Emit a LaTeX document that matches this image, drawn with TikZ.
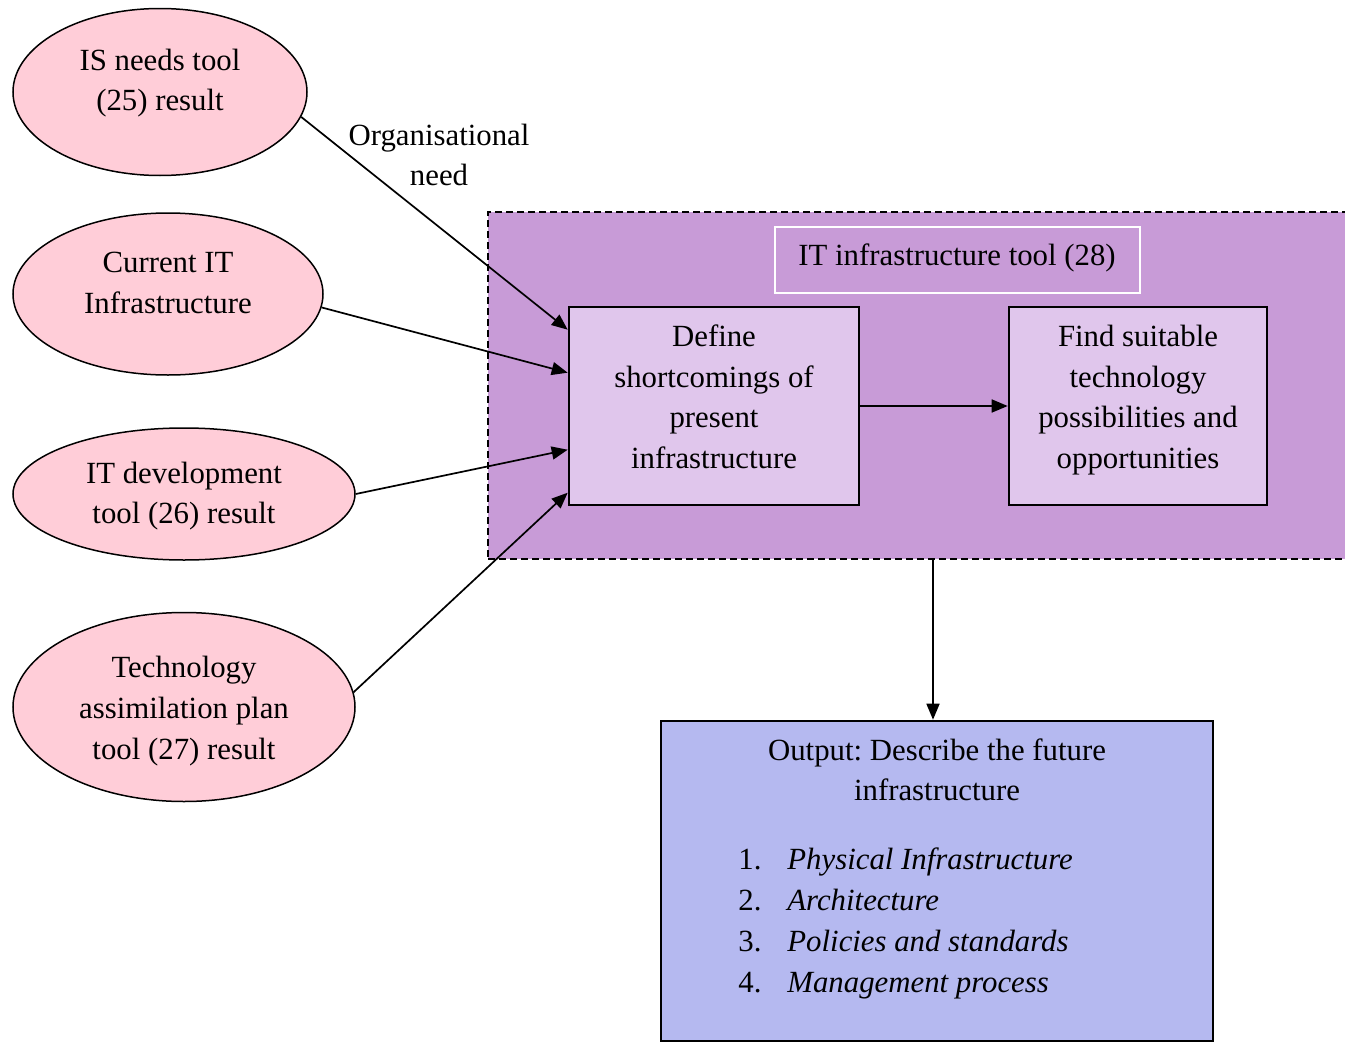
\documentclass[tikz,border=0pt]{standalone}
\usepackage{fontspec}
\setmainfont{Liberation Serif}
\usetikzlibrary{shapes.geometric,arrows.meta,calc}
\definecolor{pinkfill}{RGB}{255,205,216}
\definecolor{contfill}{RGB}{200,155,215}
\definecolor{boxfill}{RGB}{224,198,236}
\definecolor{outfill}{RGB}{181,185,240}
\frenchspacing
\begin{document}
\begin{tikzpicture}[x=0.5pt,y=-0.5pt,
  font=\fontsize{15.4}{20.3}\selectfont,
  ell/.style={ellipse,draw=black,line width=0.75pt,fill=pinkfill,inner sep=0pt},
  txt/.style={align=center,inner sep=0pt},
  stepbox/.style={rectangle,draw=black,line width=1.3pt,fill=boxfill,inner sep=0pt},
  arr/.style={line width=0.85pt,-{Triangle[length=8pt,width=6.5pt]}}]
\useasboundingbox (0,0) rectangle (1345,1044);
% container
\node[rectangle,draw=black,dashed,dash pattern=on 3.5pt off 2pt,line width=0.7pt,fill=contfill,
  minimum width=431pt,minimum height=173.5pt,inner sep=0pt] (cont) at (919,385.5) {};
\node[rectangle,draw=white,line width=1pt,minimum width=182.5pt,minimum height=33pt,inner sep=0pt] (title) at (957.5,260) {};
\node[txt] (titlet) at (957,258) {IT infrastructure tool (28)};
% boxes
\node[stepbox,minimum width=145pt,minimum height=99pt] (def) at (714,406) {};
\node[txt] (deft) at (714,397) {Define\\shortcomings of\\present\\infrastructure};
\node[stepbox,minimum width=129pt,minimum height=99pt] (find) at (1138,406) {};
\node[txt] (findt) at (1138,400) {Find suitable\\technology\\possibilities and\\opportunities};
% ellipses
\node[ell,minimum width=147pt,minimum height=83.5pt] (e1) at (160,92) {};
\node[txt] (e1t) at (160,83) {IS needs tool\\(25) result};
\node[ell,minimum width=155pt,minimum height=81pt] (e2) at (168,294) {};
\node[txt] (e2t) at (168,283) {Current IT\\Infrastructure};
\node[ell,minimum width=171pt,minimum height=66pt] (e3) at (184,494) {};
\node[txt] (e3t) at (184,496) {IT development\\tool (26) result};
\node[ell,minimum width=171pt,minimum height=94.5pt] (e4) at (184,707) {};
\node[txt] (e4t) at (184,711) {Technology\\assimilation plan\\tool (27) result};
\node[txt] (lab) at (439,155) {Organisational\\need};
% output
\node[rectangle,draw=black,line width=1.3pt,fill=outfill,minimum width=276pt,minimum height=160pt,inner sep=0pt] (out) at (937,881) {};
\node[txt] (outt) at (937,770) {Output: Describe the future\\infrastructure};
\node[inner sep=0pt,anchor=base west] (n1) at (738,869) {1.};
\node[inner sep=0pt,anchor=base west] (i1) at (787,869) {\itshape Physical Infrastructure};
\node[inner sep=0pt,anchor=base west] (n2) at (738,910) {2.};
\node[inner sep=0pt,anchor=base west] (i2) at (787,910) {\itshape Architecture};
\node[inner sep=0pt,anchor=base west] (n3) at (738,951) {3.};
\node[inner sep=0pt,anchor=base west] (i3) at (787,951) {\itshape Policies and standards};
\node[inner sep=0pt,anchor=base west] (n4) at (738,992) {4.};
\node[inner sep=0pt,anchor=base west] (i4) at (787,992) {\itshape Management process};
% targets
\path (def.north west) ++(0,24) coordinate (t1);
\path (def.north west) ++(0,67) coordinate (t2);
\path (def.north west) ++(0,144) coordinate (t3);
\path (def.north west) ++(0,187) coordinate (t4);
\draw[arr] (e1.-10.4) -- (t1);
\draw[arr] (e2.-5) -- (t2);
\draw[arr] (e3.east) -- (t3);
\draw[arr] (e4.5) -- (t4);
\draw[arr] (def) -- (find);
\coordinate (dn) at (933,559);
\draw[arr] (dn) -- (dn |- out.north);
\end{tikzpicture}
\end{document}
